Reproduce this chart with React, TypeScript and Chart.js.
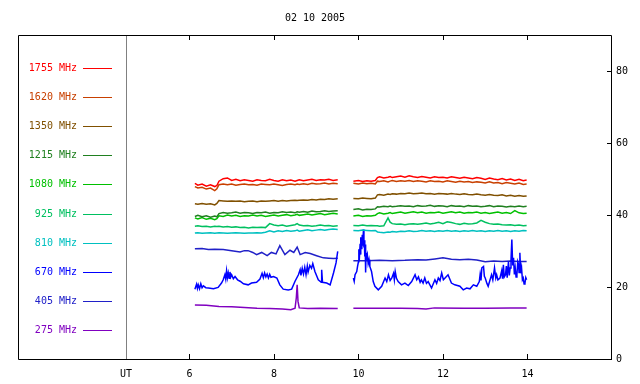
import React, { useEffect, useRef } from "react";
import { Chart, registerables } from "chart.js";

Chart.register(...registerables);

const TITLE = "02 10 2005";
const X_TICKS = [4.5, 6, 8, 10, 12, 14];
const X_TICK_LABELS = ["UT", "6", "8", "10", "12", "14"];
const Y_TICKS = [0, 20, 40, 60, 80];

// shared time grids (UT hours) for the upper channels
const T1 = [6.13, 6.2, 6.3, 6.4, 6.5, 6.6, 6.65, 6.7, 6.8, 6.9, 7.0, 7.1, 7.2, 7.3, 7.4, 7.5, 7.6, 7.7, 7.8, 7.9, 8.0, 8.1, 8.2, 8.3, 8.4, 8.5, 8.55, 8.6, 8.7, 8.8, 8.9, 9.0, 9.1, 9.2, 9.3, 9.4, 9.51];
const T2 = [9.88, 10.0, 10.1, 10.2, 10.3, 10.4, 10.45, 10.5, 10.6, 10.7, 10.75, 10.8, 10.9, 11.0, 11.1, 11.2, 11.3, 11.4, 11.5, 11.6, 11.7, 11.8, 11.9, 12.0, 12.1, 12.2, 12.3, 12.4, 12.5, 12.6, 12.7, 12.8, 12.9, 13.0, 13.1, 13.2, 13.3, 13.4, 13.5, 13.6, 13.7, 13.8, 13.9, 13.98];

const F1755_A = [48.8, 48.3, 48.6, 48.0, 48.4, 47.9, 48.2, 49.4, 50.1, 50.3, 49.6, 49.9, 49.5, 49.8, 49.6, 49.4, 49.8, 49.6, 49.5, 49.9, 49.6, 49.4, 49.8, 49.5, 49.7, 49.4, 49.6, 49.8, 49.5, 49.7, 49.9, 49.6, 49.8, 49.7, 49.9, 49.6, 49.8];
const F1755_B = [49.4, 49.6, 49.3, 49.5, 49.4, 49.6, 50.4, 50.6, 50.3, 50.5, 50.7, 50.4, 50.6, 50.8, 50.5, 50.9, 50.6, 50.4, 50.7, 50.5, 50.3, 50.6, 50.4, 50.5, 50.3, 50.6, 50.4, 50.2, 50.5, 50.3, 50.1, 50.4, 50.2, 49.9, 50.3, 50.0, 49.8, 50.1, 49.7, 50.0, 49.6, 49.9, 49.5, 49.7];

const F1620_A = [47.9, 47.5, 47.7, 47.2, 47.5, 46.8, 47.3, 48.4, 48.6, 48.4, 48.6, 48.3, 48.5, 48.6, 48.4, 48.5, 48.3, 48.6, 48.5, 48.4, 48.6, 48.4, 48.2, 48.5, 48.6, 48.4, 48.6, 48.5, 48.7, 48.5, 48.8, 48.6, 48.7, 48.9, 48.6, 48.8, 48.7];
const F1620_B = [48.8, 48.6, 48.9, 48.7, 48.8, 48.6, 49.4, 49.3, 49.5, 49.2, 49.4, 49.6, 49.3, 49.5, 49.4, 49.6, 49.3, 49.5, 49.4, 49.2, 49.5, 49.3, 49.4, 49.2, 49.5, 49.3, 49.1, 49.4, 49.2, 49.3, 49.0, 49.2, 49.1, 48.9, 49.2, 48.9, 49.0, 48.7, 49.0, 48.8, 48.6, 48.9, 48.5, 48.6];

const F1350_A = [43.1, 43.0, 43.2, 43.0, 43.1, 42.8, 43.2, 44.0, 43.9, 43.8, 43.9, 43.8, 43.9, 43.7, 43.8, 43.9, 43.7, 43.9, 43.8, 43.9, 44.0, 43.8, 44.0, 43.9, 44.0, 44.1, 44.0, 44.1, 44.2, 44.1, 44.3, 44.2, 44.4, 44.3, 44.5, 44.4, 44.5];
const F1350_B = [44.6, 44.5, 44.7, 44.6, 44.5, 44.7, 45.6, 45.7, 45.5, 45.8, 45.7, 45.9, 45.8, 46.0, 45.9, 46.1, 45.9, 46.0, 46.1, 45.9, 46.0, 45.8, 46.0, 45.9, 45.8, 46.0, 45.8, 45.7, 45.9, 45.7, 45.6, 45.8, 45.6, 45.5, 45.7, 45.5, 45.4, 45.6, 45.3, 45.5, 45.2, 45.4, 45.2, 45.3];

const F1215_A = [39.6, 39.9, 39.5, 39.8, 39.4, 39.7, 39.5, 40.4, 40.7, 40.5, 40.6, 40.8, 40.5, 40.7, 40.6, 40.4, 40.7, 40.6, 40.8, 40.5, 40.7, 40.6, 40.9, 40.7, 40.8, 40.6, 40.9, 40.8, 41.0, 40.8, 41.1, 40.9, 41.0, 41.2, 41.0, 41.1, 41.2];
const F1215_B = [41.5, 41.7, 41.4, 41.6, 41.5, 41.7, 42.3, 42.2, 42.4, 42.3, 42.5, 42.3, 42.4, 42.6, 42.4, 42.5, 42.3, 42.6, 42.4, 42.5, 42.7, 42.4, 42.6, 42.5, 42.3, 42.6, 42.4, 42.5, 42.3, 42.6, 42.4, 42.5, 42.3, 42.4, 42.6, 42.3, 42.5, 42.4, 42.2, 42.4, 42.3, 42.5, 42.3, 42.4];

const F1080_A = [39.2, 38.9, 39.3, 38.8, 39.1, 38.7, 39.0, 39.8, 39.6, 40.0, 39.7, 39.9, 39.6, 39.8, 39.7, 40.0, 39.7, 39.9, 39.6, 39.8, 40.0, 39.7, 39.9, 40.1, 39.8, 40.0, 40.2, 39.9, 40.1, 40.3, 40.0, 40.2, 40.4, 40.1, 40.3, 40.5, 40.3];
const F1080_B = [39.7, 39.9, 39.6, 39.8, 39.7, 39.9, 40.4, 40.6, 40.3, 40.5, 40.7, 40.4, 40.6, 40.8, 40.5, 40.7, 40.9, 40.6, 40.8, 40.5, 40.7, 40.6, 40.8, 40.5, 40.7, 40.9, 40.6, 40.8, 40.5, 40.7, 40.6, 40.8, 40.5, 40.7, 40.4, 40.6, 40.8, 40.5, 40.7, 40.4, 41.2, 40.6, 40.4, 40.5];

const F925_A = [36.9, 37.0, 36.8, 36.9, 36.7, 36.9, 36.8, 36.9, 36.7, 36.8, 36.6, 36.7, 36.5, 36.6, 36.4, 36.6, 36.5, 36.6, 36.5, 37.6, 37.2, 37.0, 37.2, 36.9, 37.1, 37.3, 37.6, 37.2, 37.0, 37.1, 36.9, 37.0, 37.2, 37.0, 37.1, 36.9, 37.0];
const F925_B = [37.1, 37.0, 37.2, 37.0, 37.1, 37.0, 37.0, 36.9, 37.0, 39.2, 38.0, 37.6, 37.4, 37.5, 37.3, 37.5, 37.6, 37.4, 37.6, 37.8, 37.5, 37.7, 38.0, 37.6, 38.1, 37.9, 37.6, 37.4, 37.7, 37.5, 37.6, 37.8, 38.5, 38.0, 37.6, 37.4, 37.5, 37.3, 37.2, 37.3, 37.1, 37.2, 37.0, 37.1];

const F810_A = [35.0, 35.1, 34.9, 35.0, 35.1, 34.9, 35.0, 35.1, 35.0, 34.9, 35.0, 35.1, 35.0, 34.9, 35.0, 35.0, 35.1, 35.0, 35.2, 35.6, 35.3, 35.6, 35.4, 35.7, 35.5, 35.6, 35.8, 35.5, 35.7, 35.9, 35.6, 35.8, 36.0, 35.8, 36.0, 36.1, 36.0];
const F810_B = [35.7, 35.6, 35.8, 35.7, 35.6, 35.7, 35.3, 35.2, 35.1, 35.3, 35.2, 35.4, 35.3, 35.5, 35.4, 35.6, 35.4, 35.5, 35.7, 35.5, 35.6, 35.4, 35.6, 35.5, 35.7, 35.5, 35.6, 35.4, 35.6, 35.5, 35.7, 35.5, 35.6, 35.4, 35.6, 35.5, 35.7, 35.5, 35.6, 35.4, 35.6, 35.5, 35.7, 35.6];

// 670 MHz (own time samples, strongly variable)
const T670_A = [6.13, 6.17, 6.19, 6.21, 6.24, 6.27, 6.3, 6.33, 6.39, 6.45, 6.57, 6.68, 6.76, 6.8, 6.84, 6.86, 6.88, 6.9, 6.92, 6.94, 6.96, 6.98, 7.0, 7.04, 7.08, 7.14, 7.2, 7.28, 7.39, 7.47, 7.59, 7.67, 7.72, 7.75, 7.78, 7.81, 7.84, 7.87, 7.9, 7.93, 7.99, 8.07, 8.14, 8.22, 8.34, 8.42, 8.5, 8.58, 8.62, 8.64, 8.67, 8.7, 8.73, 8.76, 8.79, 8.81, 8.85, 8.89, 8.92, 8.97, 9.05, 9.12, 9.13, 9.15, 9.25, 9.33, 9.41, 9.47, 9.51];
const F670_A = [19.4, 20.8, 19.6, 20.6, 19.5, 20.9, 19.8, 20.3, 19.8, 19.7, 19.5, 19.9, 21.1, 22.0, 23.4, 22.2, 24.5, 22.6, 23.9, 22.4, 24.2, 22.8, 23.4, 22.3, 22.9, 22.0, 21.6, 20.9, 20.6, 21.1, 21.3, 22.2, 23.8, 22.6, 23.9, 22.8, 23.6, 22.5, 23.5, 22.7, 22.9, 22.5, 20.6, 19.4, 19.2, 19.4, 21.6, 23.4, 24.8, 23.2, 25.2, 23.6, 25.5, 23.4, 25.8, 24.2, 26.0, 25.2, 26.5, 24.3, 22.0, 21.3, 24.8, 21.3, 21.1, 20.6, 23.9, 26.7, 29.9];
const T670_B = [9.88, 9.9, 9.92, 9.96, 9.98, 10.0, 10.01, 10.02, 10.04, 10.05, 10.06, 10.08, 10.09, 10.1, 10.12, 10.13, 10.14, 10.15, 10.16, 10.17, 10.18, 10.19, 10.21, 10.23, 10.25, 10.27, 10.31, 10.35, 10.39, 10.47, 10.55, 10.63, 10.67, 10.71, 10.75, 10.79, 10.83, 10.85, 10.87, 10.9, 10.94, 11.02, 11.1, 11.18, 11.26, 11.34, 11.38, 11.42, 11.46, 11.49, 11.53, 11.57, 11.61, 11.65, 11.73, 11.81, 11.85, 11.89, 11.93, 11.97, 12.01, 12.05, 12.12, 12.2, 12.28, 12.4, 12.48, 12.56, 12.64, 12.72, 12.8, 12.86, 12.88, 12.9, 12.92, 12.96, 12.98, 13.0, 13.04, 13.07, 13.11, 13.15, 13.18, 13.22, 13.25, 13.27, 13.3, 13.35, 13.39, 13.41, 13.43, 13.45, 13.48, 13.5, 13.52, 13.55, 13.57, 13.59, 13.61, 13.63, 13.65, 13.67, 13.69, 13.71, 13.73, 13.75, 13.77, 13.79, 13.8, 13.82, 13.84, 13.86, 13.88, 13.9, 13.92, 13.94, 13.96, 13.98];
const F670_B = [22.5, 21.6, 23.4, 24.3, 25.8, 27.0, 30.5, 27.5, 32.0, 29.0, 33.8, 30.5, 34.5, 31.5, 36.0, 31.0, 33.0, 28.5, 31.8, 24.0, 29.5, 28.0, 29.0, 26.5, 27.6, 25.7, 24.3, 21.5, 20.2, 19.2, 20.2, 22.5, 21.5, 23.4, 21.8, 22.5, 23.8, 22.0, 24.3, 22.4, 21.5, 20.6, 21.1, 20.4, 21.5, 23.4, 22.0, 22.8, 21.3, 22.0, 21.1, 22.5, 21.0, 21.5, 19.7, 22.0, 21.0, 22.5, 21.8, 23.9, 22.0, 22.5, 23.4, 21.1, 20.6, 20.2, 19.2, 19.7, 19.5, 20.6, 20.2, 21.5, 23.5, 21.8, 25.3, 25.7, 23.0, 22.5, 21.0, 20.2, 21.8, 23.4, 22.0, 25.3, 22.5, 23.4, 22.0, 22.5, 24.5, 22.3, 26.2, 22.8, 23.4, 25.8, 22.6, 27.1, 23.2, 25.3, 27.5, 33.2, 26.0, 28.1, 23.5, 25.3, 22.8, 23.4, 27.0, 26.2, 24.0, 29.5, 23.8, 25.3, 22.0, 22.5, 20.8, 21.1, 22.6, 22.0];

// 405 MHz
const T405_A = [6.13, 6.3, 6.45, 6.6, 6.8, 7.0, 7.2, 7.3, 7.39, 7.5, 7.59, 7.71, 7.84, 7.94, 8.05, 8.14, 8.26, 8.38, 8.47, 8.55, 8.62, 8.74, 8.86, 9.01, 9.17, 9.3, 9.41, 9.51];
const F405_A = [30.6, 30.7, 30.4, 30.5, 30.4, 30.1, 29.7, 30.1, 30.1, 29.6, 29.0, 29.6, 28.7, 29.6, 29.2, 31.5, 29.0, 30.2, 29.6, 31.1, 29.0, 29.6, 29.3, 28.7, 28.1, 28.0, 27.9, 28.0];
const T405_B = [9.88, 10.2, 10.5, 10.8, 11.1, 11.4, 11.6, 11.81, 12.0, 12.2, 12.4, 12.6, 12.8, 13.0, 13.2, 13.4, 13.6, 13.8, 13.98];
const F405_B = [27.3, 27.3, 27.4, 27.3, 27.4, 27.6, 27.5, 27.8, 28.1, 27.7, 27.6, 27.7, 27.5, 27.0, 27.2, 27.1, 27.2, 27.1, 27.1];

// 275 MHz
const T275_A = [6.13, 6.4, 6.7, 7.0, 7.3, 7.6, 7.9, 8.2, 8.4, 8.5, 8.53, 8.55, 8.57, 8.6, 8.8, 9.1, 9.51];
const F275_A = [15.0, 14.9, 14.6, 14.5, 14.3, 14.1, 14.0, 13.9, 13.7, 14.1, 17.0, 20.6, 16.0, 14.2, 14.0, 14.1, 14.0];
const T275_B = [9.88, 10.5, 11.0, 11.4, 11.6, 11.8, 12.5, 13.0, 13.6, 13.98];
const F275_B = [14.1, 14.1, 14.1, 14.0, 13.9, 14.2, 14.1, 14.1, 14.2, 14.2];

const SERIES = [
  { label: "1755 MHz", color: "#ff0000", ta: T1, a: F1755_A, tb: T2, b: F1755_B },
  { label: "1620 MHz", color: "#c84000", ta: T1, a: F1620_A, tb: T2, b: F1620_B },
  { label: "1350 MHz", color: "#805000", ta: T1, a: F1350_A, tb: T2, b: F1350_B },
  { label: "1215 MHz", color: "#208020", ta: T1, a: F1215_A, tb: T2, b: F1215_B },
  { label: "1080 MHz", color: "#00c000", ta: T1, a: F1080_A, tb: T2, b: F1080_B },
  { label: "925 MHz", color: "#00c060", ta: T1, a: F925_A, tb: T2, b: F925_B },
  { label: "810 MHz", color: "#00c0c0", ta: T1, a: F810_A, tb: T2, b: F810_B },
  { label: "670 MHz", color: "#0000ff", ta: T670_A, a: F670_A, tb: T670_B, b: F670_B },
  { label: "405 MHz", color: "#2020c8", ta: T405_A, a: F405_A, tb: T405_B, b: F405_B },
  { label: "275 MHz", color: "#8000c0", ta: T275_A, a: F275_A, tb: T275_B, b: F275_B },
];

const FONT = { family: "'DejaVu Sans Mono', monospace", size: 10 };

function buildData(ta: number[], a: number[], tb: number[], b: number[]) {
  const pts: { x: number; y: number | null }[] = [];
  for (let i = 0; i < Math.min(ta.length, a.length); i++) pts.push({ x: ta[i], y: a[i] });
  pts.push({ x: (ta[ta.length - 1] + tb[0]) / 2, y: null });
  for (let i = 0; i < Math.min(tb.length, b.length); i++) pts.push({ x: tb[i], y: b[i] });
  return pts;
}

const framePlugin = {
  id: "frame",
  afterDraw(chart: any) {
    const ctx = chart.ctx;
    const area = chart.chartArea;
    const xs = chart.scales.x;
    const ys = chart.scales.y;
    const L = 18;
    ctx.save();
    ctx.strokeStyle = "#808080";
    ctx.lineWidth = 1;
    ctx.beginPath();
    ctx.moveTo(Math.round(area.left) + 0.5, area.top);
    ctx.lineTo(Math.round(area.left) + 0.5, area.bottom);
    ctx.stroke();
    ctx.strokeStyle = "#000";
    ctx.beginPath();
    ctx.moveTo(L + 0.5, Math.round(area.top) + 0.5);
    ctx.lineTo(Math.round(area.right) - 0.5, Math.round(area.top) + 0.5);
    ctx.lineTo(Math.round(area.right) - 0.5, Math.round(area.bottom) + 0.5);
    ctx.lineTo(L + 0.5, Math.round(area.bottom) + 0.5);
    ctx.closePath();
    ctx.stroke();
    ctx.beginPath();
    for (const v of X_TICKS) {
      if (v === X_TICKS[0]) continue;
      const px = Math.round(xs.getPixelForValue(v)) + 0.5;
      ctx.moveTo(px, area.top);
      ctx.lineTo(px, area.top + 5);
      ctx.moveTo(px, area.bottom);
      ctx.lineTo(px, area.bottom - 5);
    }
    for (const v of Y_TICKS) {
      const py = Math.round(ys.getPixelForValue(v)) + 0.5;
      ctx.moveTo(area.right, py);
      ctx.lineTo(area.right - 5, py);
    }
    ctx.stroke();
    ctx.font = `${FONT.size}px ${FONT.family}`;
    ctx.fillStyle = "#000";
    ctx.textAlign = "center";
    ctx.textBaseline = "middle";
    ctx.fillText(TITLE, (L + area.right) / 2, 18);
    chart.data.datasets.forEach((ds: any, i: number) => {
      const y = Math.round(67.5 + i * 29.2) + 0.5;
      ctx.fillStyle = ds.borderColor;
      ctx.textAlign = "right";
      ctx.fillText(ds.label, 77, y);
      ctx.strokeStyle = ds.borderColor;
      ctx.beginPath();
      ctx.moveTo(83, y);
      ctx.lineTo(112, y);
      ctx.stroke();
    });
    ctx.restore();
  },
};

export default function App() {
  const ref = useRef<HTMLCanvasElement | null>(null);
  useEffect(() => {
    if (!ref.current) return;
    const chart = new Chart(ref.current, {
      type: "line",
      data: {
        datasets: SERIES.map((s) => ({
          label: s.label,
          data: buildData(s.ta, s.a, s.tb, s.b),
          borderColor: s.color,
          backgroundColor: s.color,
          borderWidth: 1.5,
          pointRadius: 0,
          tension: 0,
          spanGaps: false,
          fill: false,
        })),
      },
      options: {
        animation: false,
        responsive: false,
        maintainAspectRatio: false,
        devicePixelRatio: 1,
        layout: { padding: { left: 126, top: 35, right: 0, bottom: 0 } },
        plugins: {
          legend: { display: false },
          tooltip: { enabled: false },
          title: { display: false },
        },
        scales: {
          x: {
            type: "linear",
            position: "bottom",
            min: 4.5,
            max: 16,
            afterFit: (s: any) => {
              s.height = 25;
            },
            afterBuildTicks: (s: any) => {
              s.ticks = X_TICKS.map((v) => ({ value: v }));
            },
            ticks: {
              autoSkip: false,
              maxRotation: 0,
              padding: 9,
              color: "#000",
              font: FONT,
              callback: (v: any) => {
                const i = X_TICKS.indexOf(Number(v));
                return i >= 0 ? X_TICK_LABELS[i] : "";
              },
            },
            grid: { display: false, drawTicks: false },
            border: { display: false },
          },
          y: {
            type: "linear",
            position: "right",
            min: 0,
            max: 90,
            afterFit: (s: any) => {
              s.width = 28;
            },
            afterBuildTicks: (s: any) => {
              s.ticks = Y_TICKS.map((v) => ({ value: v }));
            },
            ticks: { padding: 4, color: "#000", font: FONT },
            grid: { display: false, drawTicks: false },
            border: { display: false },
          },
        },
      },
      plugins: [framePlugin],
    } as any);
    return () => chart.destroy();
  }, []);
  return (
    <div style={{ position: "fixed", left: 0, top: 0, width: 640, height: 384, background: "#fff" }}>
      <canvas ref={ref} width={640} height={384} style={{ display: "block" }} />
    </div>
  );
}
